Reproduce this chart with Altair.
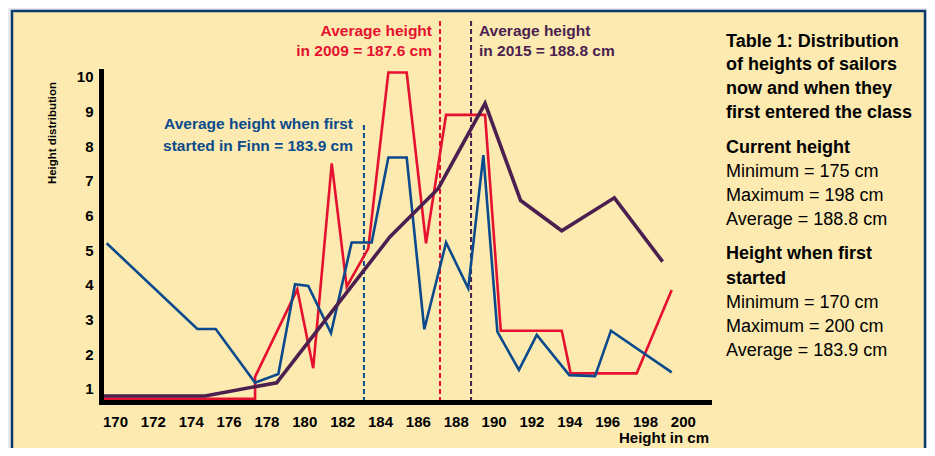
import altair as alt
import pandas as pd

# ---------------- data ----------------
blue_x = [169.56, 174.35, 175.32, 177.40, 178.63, 179.51, 180.21, 181.41, 182.50, 183.56,
          184.44, 185.41, 186.34, 187.49, 188.66, 189.46, 190.20, 191.34, 192.28, 194.00,
          195.36, 196.20, 199.41]
blue_y = [5.20, 2.73, 2.73, 1.18, 1.43, 4.02, 3.97, 2.61, 5.22, 5.22,
          7.67, 7.67, 2.72, 5.22, 3.90, 7.74, 2.65, 1.55, 2.56, 1.40,
          1.37, 2.68, 1.48]

red_x = [169.38, 177.40, 177.40, 179.63, 180.47, 181.45, 182.24, 183.38, 184.44, 185.41,
         186.43, 187.49, 189.55, 190.38, 193.60, 194.07, 197.56, 199.41]
red_y = [0.72, 0.72, 1.35, 3.87, 1.60, 7.50, 3.95, 5.05, 10.12, 10.12,
         5.20, 8.90, 8.90, 2.68, 2.68, 1.45, 1.45, 3.85]

purple_x = [169.38, 174.75, 178.54, 184.53, 187.08, 189.55, 191.43, 193.60, 196.38, 198.93]
purple_y = [0.80, 0.80, 1.18, 5.39, 6.78, 9.23, 6.43, 5.56, 6.51, 4.67]

avg_first = 183.15   # drawn position of the "first started" average line
avg_2009 = 187.17
avg_2015 = 188.81

x_ticks = list(range(170, 201, 2))
y_ticks = list(range(1, 11))

red_label = ["Average height", "in 2009 = 187.6 cm"]
purple_label = ["Average height", "in 2015 = 188.8 cm"]
blue_label = ["Average height when first", "started in Finn = 183.9 cm"]

box_title = ["Table 1: Distribution", "of heights of sailors", "now and when they",
             "first entered the class"]
box_current_head = "Current height"
box_current = ["Minimum = 175 cm", "Maximum = 198 cm", "Average = 188.8 cm"]
box_first_head = ["Height when first", "started"]
box_first = ["Minimum = 170 cm", "Maximum = 200 cm", "Average = 183.9 cm"]

# ---------------- styling ----------------
FONT = "Liberation Sans, Arial, Helvetica, sans-serif"
NARROW = "Liberation Sans Narrow, Liberation Sans, Arial, sans-serif"
RED = "#e5112f"
BLUE = "#0b4a8c"
PURPLE = "#4b1f4f"
YELLOW = "#fdeab0"
NAVY = "#0b3a6e"
GRAY = "#e9e8ef"

W, H = 608, 331
xs = alt.Scale(domain=[169.26, 201.38], nice=False, zero=False)
ys = alt.Scale(domain=[0.625, 10.164], nice=False, zero=False)

one = alt.Data(values=[{"a": 1}])


def line_df(xv, yv):
    return pd.DataFrame({"h": xv, "v": yv, "i": list(range(len(xv)))})


def series(xv, yv, color, width):
    return alt.Chart(line_df(xv, yv)).mark_line(
        color=color, strokeWidth=width, strokeJoin="miter"
    ).encode(
        x=alt.X("h:Q", scale=xs,
                axis=alt.Axis(values=x_ticks, title=None, ticks=False, tickSize=0, grid=False,
                              domainColor="black", domainWidth=5, domainCap="square",
                              labelFont=NARROW, labelFontSize=15, labelFontWeight="bold",
                              labelColor="black", labelPadding=12, labelOverlap=False,
                              labelFlush=False, zindex=1)),
        y=alt.Y("v:Q", scale=ys,
                axis=alt.Axis(values=y_ticks, title=None, ticks=False, tickSize=0, grid=False,
                              domainColor="black", domainWidth=5, domainCap="square",
                              labelFont=FONT, labelFontSize=15, labelFontWeight="bold",
                              labelColor="black", labelPadding=8, labelOverlap=False,
                              labelFlush=False, zindex=1)),
        order="i:Q",
    )


def text_block(lines, x, y, size, weight, color, align="left", lh=20.0):
    layers = []
    for k, t in enumerate(lines):
        layers.append(
            alt.Chart(one).mark_text(
                font=FONT, fontSize=size, fontWeight=weight, color=color,
                align=align, baseline="alphabetic"
            ).encode(text=alt.value(t), x=alt.value(x), y=alt.value(y + k * lh))
        )
    return layers


def vrule(xval, y_top, color):
    return alt.Chart(pd.DataFrame({"h": [xval]})).mark_rule(
        color=color, strokeWidth=2, strokeDash=[5, 3]
    ).encode(x=alt.X("h:Q", scale=xs), y=alt.value(y_top), y2=alt.value(H))


# page coordinate -> plot coordinate: x - 101, y - 71
panel = alt.Chart(one).mark_rect(fill=YELLOW, stroke=NAVY, strokeWidth=2.5).encode(
    x=alt.value(-89), x2=alt.value(824), y=alt.value(-60), y2=alt.value(400)
)

layers = [panel]
layers += [vrule(avg_first, 54, BLUE), vrule(avg_2009, -50, RED), vrule(avg_2015, -50, PURPLE)]
layers += [series(red_x, red_y, RED, 2.6), series(blue_x, blue_y, BLUE, 2.6),
           series(purple_x, purple_y, PURPLE, 3.6)]

layers += text_block(red_label, 331, -35.5, 15.5, "bold", RED, "right", 20)
layers += text_block(purple_label, 378, -35.5, 15.5, "bold", PURPLE, "left", 20)
layers += text_block(blue_label, 252, 58, 15.5, "bold", BLUE, "right", 22)

layers += text_block(box_title, 625, -24.5, 18, "bold", "black", "left", 23.7)
layers += text_block([box_current_head], 625, 81.5, 18, "bold", "black")
layers += text_block(box_current, 625, 105.5, 18, "normal", "black", "left", 24)
layers += text_block(box_first_head, 625, 187.5, 18, "bold", "black", "left", 25)
layers += text_block(box_first, 625, 236.5, 18, "normal", "black", "left", 24)

# axis titles
layers.append(
    alt.Chart(one).mark_text(font=FONT, fontSize=11.5, fontWeight="bold", color="black",
                             angle=270, align="center", baseline="middle")
    .encode(text=alt.value("Height distribution"), x=alt.value(-48), y=alt.value(62))
)
layers.append(
    alt.Chart(one).mark_text(font=FONT, fontSize=15, fontWeight="bold", color="black",
                             align="right", baseline="alphabetic")
    .encode(text=alt.value("Height in cm"), x=alt.value(608), y=alt.value(372))
)

chart = alt.layer(*layers).properties(
    width=W, height=H,
    autosize=alt.AutoSizeParams(type="none"),
    padding={"left": 93, "top": 63, "right": 218, "bottom": 46},
    background=GRAY,
).configure_view(stroke="transparent")

chart.save("out.html", embed_options={"renderer": "svg", "actions": False})
